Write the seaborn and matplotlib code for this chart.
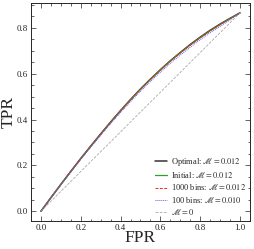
import numpy as np
import pandas as pd
import seaborn as sns
import matplotlib.pyplot as plt
from matplotlib.ticker import MultipleLocator

# ROC curves
fpr = [0.0, 0.05, 0.1, 0.15, 0.2, 0.25, 0.3, 0.35, 0.4, 0.45, 0.5,
       0.55, 0.6, 0.65, 0.7, 0.75, 0.8, 0.85, 0.9, 0.95, 1.0]
tpr_optimal = [0.0, 0.059, 0.117, 0.174, 0.230, 0.284, 0.337, 0.389, 0.439, 0.487, 0.533,
               0.576, 0.617, 0.656, 0.692, 0.727, 0.759, 0.789, 0.816, 0.841, 0.865]
tpr_initial = [0.0, 0.059, 0.117, 0.173, 0.229, 0.283, 0.336, 0.388, 0.438, 0.486, 0.532,
               0.575, 0.616, 0.655, 0.691, 0.725, 0.757, 0.787, 0.814, 0.840, 0.865]
tpr_1000 = [0.0, 0.059, 0.117, 0.174, 0.229, 0.284, 0.336, 0.388, 0.438, 0.486, 0.532,
            0.575, 0.615, 0.654, 0.690, 0.724, 0.756, 0.786, 0.813, 0.839, 0.865]
tpr_100 = [0.0, 0.058, 0.115, 0.171, 0.226, 0.279, 0.331, 0.382, 0.431, 0.478, 0.523,
           0.566, 0.606, 0.645, 0.681, 0.715, 0.748, 0.778, 0.806, 0.834, 0.865]
fpr_random = [0.0, 1.0]
tpr_random = [0.0, 0.865]

labels = [
    r"Optimal: $\mathscr{M}=0.012$",
    r"Initial: $\mathscr{M}=0.012$",
    r"1000 bins: $\mathscr{M}=0.012$",
    r"100 bins: $\mathscr{M}=0.010$",
    r"$\mathscr{M}=0$",
]

sns.set_style("ticks")
plt.rcParams["font.family"] = ["Liberation Serif", "DejaVu Serif"]
plt.rcParams["mathtext.fontset"] = "stix"

fig = plt.figure(figsize=(2.54, 2.49), dpi=100)
ax = fig.add_axes([0.122, 0.112, 0.862, 0.876])

series = [
    (fpr, tpr_optimal, "#333333", "-", 1.1),
    (fpr, tpr_initial, "#2ca02c", "-", 0.9),
    (fpr, tpr_1000, "#ff2020", (0, (3, 1.5)), 0.7),
    (fpr, tpr_100, "#5a5aff", (0, (1, 1)), 0.7),
    (fpr_random, tpr_random, "#999999", (0, (4, 2)), 0.5),
]

for (x, tpr, color, ls, lw), lab in zip(series, labels):
    df = pd.DataFrame({"fpr": x, "tpr": tpr})
    sns.lineplot(data=df, x="fpr", y="tpr", ax=ax, color=color,
                 linestyle=ls, linewidth=lw, label=lab)

ax.set_xlim(-0.05, 1.05)
ax.set_ylim(-0.043, 0.908)
ax.xaxis.set_major_locator(MultipleLocator(0.2))
ax.xaxis.set_minor_locator(MultipleLocator(0.05))
ax.yaxis.set_major_locator(MultipleLocator(0.2))
ax.yaxis.set_minor_locator(MultipleLocator(0.05))
ax.xaxis.set_major_formatter(plt.FormatStrFormatter("%.1f"))
ax.yaxis.set_major_formatter(plt.FormatStrFormatter("%.1f"))
ax.tick_params(which="both", direction="in", top=True, right=True,
               labelsize=6.5, width=0.5, pad=2)
ax.tick_params(which="major", length=3.5)
ax.tick_params(which="minor", length=1.8)
for s in ax.spines.values():
    s.set_linewidth(0.7)

ax.set_xlabel("FPR", fontsize=12.5)
ax.set_ylabel("TPR", fontsize=12.5)
ax.xaxis.set_label_coords(0.5, -0.04)
ax.yaxis.set_label_coords(-0.066, 0.5)

ax.legend(loc="lower right", frameon=False, fontsize=6.0,
          handlelength=1.4, handletextpad=0.45, labelspacing=0.38,
          borderaxespad=0.1)

fig.savefig("out.png", dpi=100)
